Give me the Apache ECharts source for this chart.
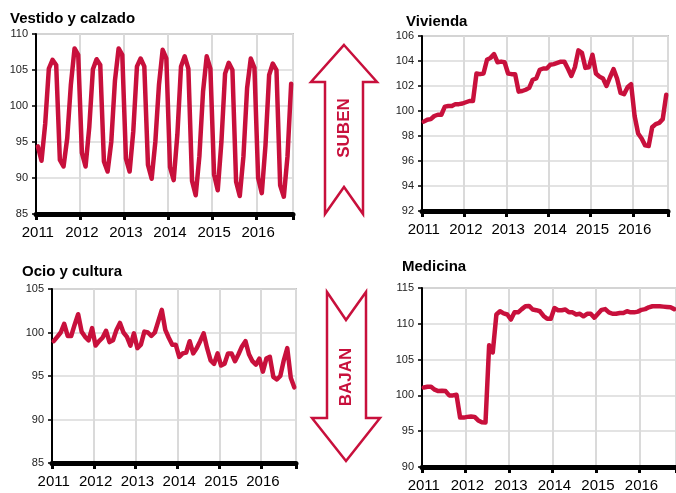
<!DOCTYPE html>
<html><head><meta charset="utf-8">
<script src="https://cdn.jsdelivr.net/npm/echarts@6/dist/echarts.min.js"></script>
<style>html,body{margin:0;padding:0;background:#fff}#c{width:676px;height:493px}</style>
</head><body><div id="c"></div>
<script>
// Tick labels (years) and months
const years = ['2011', '2012', '2013', '2014', '2015', '2016'];
const monthCodes = ['01','02','03','04','05','06','07','08','09','10','11','12'];

// Series values, Jan 2011 - Oct 2016 (monthly)
const vestido = [
  94.4, 92.4, 97.5, 105.2, 106.4, 105.7, 92.5, 91.6, 95.5, 103.0, 108.0, 107.1,
  93.5, 91.6, 97.0, 105.1, 106.5, 105.7, 92.3, 90.9, 95.0, 103.5, 108.0, 107.1,
  92.7, 90.9, 96.5, 105.5, 106.6, 105.5, 91.8, 89.9, 95.0, 103.0, 107.8, 106.6,
  91.5, 89.7, 96.0, 105.5, 106.9, 105.2, 89.6, 87.6, 93.0, 102.0, 106.9, 105.2,
  90.5, 88.3, 95.0, 104.5, 106.0, 105.0, 89.5, 87.5, 93.0, 102.5, 106.6, 105.3,
  90.0, 87.9, 94.5, 104.3, 105.9, 105.0, 89.0, 87.4, 93.0, 103.1
];
const vivienda = [
  99.15, 99.3, 99.35, 99.6, 99.7, 99.7, 100.35, 100.4, 100.4, 100.55, 100.55, 100.6,
  100.7, 100.8, 100.8, 103.0, 102.95, 103.0, 104.1, 104.25, 104.55, 103.9, 103.95, 103.9,
  103.0, 102.95, 102.95, 101.55, 101.6, 101.7, 101.85, 102.5, 102.6, 103.3, 103.4, 103.4,
  103.7, 103.75, 103.85, 103.95, 103.95, 103.4, 102.8, 103.5, 104.85, 104.65, 103.45, 103.5,
  104.5, 103.0, 102.75, 102.6, 102.0, 102.7, 103.35, 102.6, 101.45, 101.35, 101.9, 102.15,
  99.6, 98.2, 97.8, 97.25, 97.2, 98.7, 98.95, 99.05, 99.35, 101.3
];
const ocio = [
  99.0, 99.5, 100.0, 101.0, 99.6, 99.6, 100.9, 102.1, 100.1, 99.5, 99.1, 100.5,
  98.5, 99.0, 99.4, 100.2, 98.9, 99.1, 100.3, 101.1, 100.0, 99.5, 98.5, 99.9,
  98.2, 98.6, 100.1, 100.0, 99.6, 100.0, 101.3, 102.6, 100.3, 99.4, 98.6, 98.6,
  97.2, 97.6, 97.7, 99.0, 97.6, 98.2, 99.0, 99.9, 98.2, 96.8, 96.4, 97.6,
  96.2, 96.4, 97.6, 97.6, 96.7, 97.5, 98.4, 99.0, 97.5, 96.7, 96.3, 97.0,
  95.5, 97.0, 97.2, 94.9, 94.6, 95.0, 96.8, 98.2, 94.8, 93.7
];
const medicina = [
  101.1, 101.2, 101.2, 100.8, 100.6, 100.65, 100.6, 100.0, 100.0, 100.1, 96.9, 96.9,
  97.0, 97.05, 97.0, 96.5, 96.25, 96.2, 107.0, 106.0, 111.3, 111.75, 111.45, 111.3,
  110.6, 111.6, 111.6, 112.05, 112.45, 112.5, 112.0, 111.9, 111.75, 111.1, 110.7, 110.7,
  112.2, 111.9, 111.9, 112.0, 111.6, 111.6, 111.3, 111.4, 111.05, 111.4, 111.4, 110.85,
  111.4, 111.95, 112.05, 111.6, 111.4, 111.4, 111.5, 111.5, 111.75, 111.6, 111.6, 111.7,
  111.95, 112.05, 112.3, 112.45, 112.45, 112.45, 112.4, 112.35, 112.3, 112.05
];

const titles = ['Vestido y calzado', 'Vivienda', 'Ocio y cultura', 'Medicina'];
const seriesData = [vestido, vivienda, ocio, medicina];
const yMin = [85, 92, 85, 90];
const yMax = [110, 106, 105, 115];
const yStep = [5, 2, 5, 5];

const months = [];
years.forEach(y => monthCodes.forEach(m => months.push(y + '-' + m)));
const cats = months.slice(0, vestido.length);

const RED = '#c8103c';
const FONT = '"Liberation Sans", Arial, sans-serif';

const grids = [
  {left: 36, top: 34, width: 257, height: 180},
  {left: 422, top: 36, width: 246, height: 175},
  {left: 52, top: 289, width: 244, height: 174},
  {left: 422, top: 288, width: 254, height: 179}
];
const titlePos = [[10, 11], [406, 14], [22, 264.5], [402, 259.5]];

const yearIdx = (i) => i % 12 === 0;

const option = {
  backgroundColor: '#fff',
  animation: false,
  title: titles.map((t, k) => ({
    text: t, left: titlePos[k][0], top: titlePos[k][1], padding: 0,
    textStyle: {fontFamily: FONT, fontWeight: 'bold', fontSize: 15, color: '#000'}
  })),
  grid: grids.map(g => Object.assign({show: true, borderColor: '#c4c4c4', borderWidth: 2, backgroundColor: '#fff', containLabel: false}, g)),
  xAxis: grids.map((g, k) => ({
    type: 'category', gridIndex: k, data: cats, boundaryGap: true,
    axisLine: {show: true, lineStyle: {color: '#000', width: 5}},
    axisTick: {show: true, interval: yearIdx, length: 6, lineStyle: {color: '#000', width: 3}},
    axisLabel: {show: true, interval: yearIdx, margin: 11, formatter: v => v.slice(0, 4),
      fontFamily: FONT, fontSize: 15, color: '#000'},
    splitLine: {show: true, interval: yearIdx, lineStyle: {color: '#dadada', width: 2}}
  })),
  yAxis: grids.map((g, k) => ({
    type: 'value', gridIndex: k, min: yMin[k], max: yMax[k], interval: yStep[k],
    axisLine: {show: true, lineStyle: {color: '#000', width: 2}},
    axisTick: {show: true, length: 4, lineStyle: {color: '#000', width: 1.5}},
    axisLabel: {show: true, margin: 8, fontFamily: FONT, fontSize: 11, color: '#222'},
    splitLine: {show: true, lineStyle: {color: '#dadada', width: 1.5}}
  })),
  series: seriesData.map((d, k) => ({
    type: 'line', xAxisIndex: k, yAxisIndex: k, data: d, symbol: 'none', showSymbol: false,
    lineStyle: {color: RED, width: 4.5, cap: 'round', join: 'round'}, itemStyle: {color: RED}, z: 5
  })),
  graphic: [
    {type: 'polygon', shape: {points: [[344,45],[377,82],[363,82],[363,214],[344,187],[325,214],[325,82],[311,82]]},
      style: {fill: '#fff', stroke: RED, lineWidth: 2.5}},
    {type: 'polygon', shape: {points: [[327,292],[346,320],[366,292],[366,418],[380,418],[346,461],[312,418],[327,418]]},
      style: {fill: '#fff', stroke: RED, lineWidth: 2.5}},
    {type: 'text', x: 344, y: 128, rotation: Math.PI / 2,
      style: {text: 'SUBEN', x: 0, y: 0, fill: RED, font: 'bold 17px ' + FONT, align: 'center', verticalAlign: 'middle', textAlign: 'center', textVerticalAlign: 'middle'}},
    {type: 'text', x: 346, y: 377, rotation: Math.PI / 2,
      style: {text: 'BAJAN', x: 0, y: 0, fill: RED, font: 'bold 17px ' + FONT, align: 'center', verticalAlign: 'middle', textAlign: 'center', textVerticalAlign: 'middle'}}
  ]
};
const chart = echarts.init(document.getElementById('c'), null, {renderer: 'canvas'});
chart.setOption(option);
</script></body></html>
